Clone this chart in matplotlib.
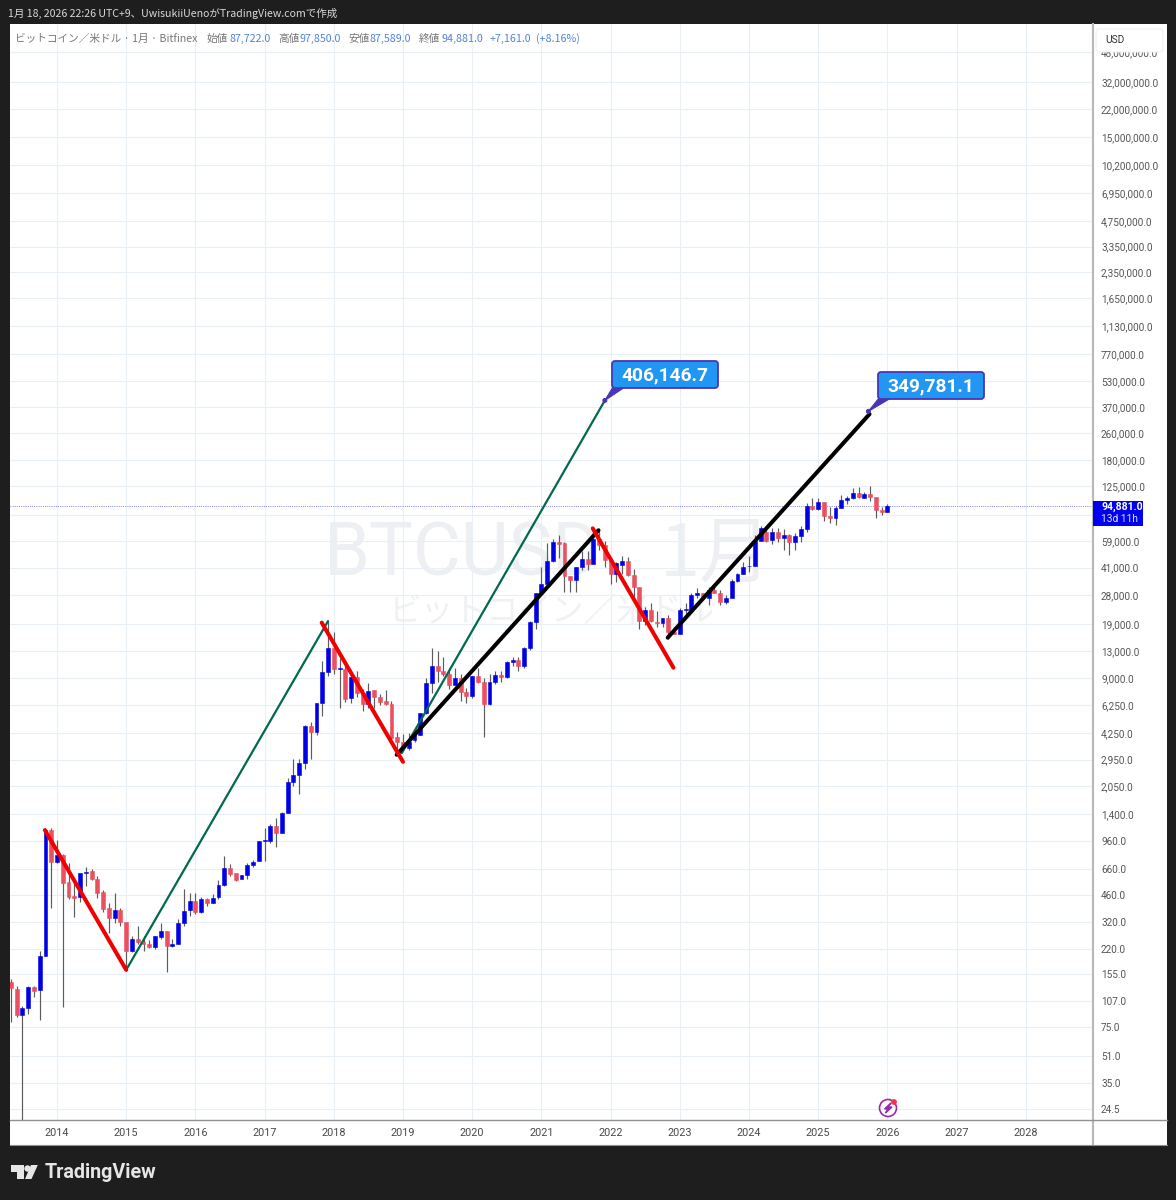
import matplotlib
matplotlib.use("Agg")
import numpy as np
import matplotlib.pyplot as plt
from matplotlib.patches import Rectangle, FancyBboxPatch, Polygon, Circle

# monthly candles, first bar is 2013-05, last bar 2026-01
opens = [140, 127, 89, 98, 131, 125, 200, 1122,
         724, 798, 551, 455, 449, 625, 641, 574, 481, 385, 336, 376,
         318, 214, 252, 242, 235, 226, 259, 282, 229, 235, 314, 376,
         425, 366, 437, 413, 449, 529, 668, 625, 574, 606, 695, 735,
         966, 966, 1188, 1079, 1418, 2168, 2390, 2817, 4677, 4305, 6412, 9795,
         13600, 10210, 10210, 6850, 9150, 7345, 6330, 7650, 6950, 6550, 6330, 4000,
         3760, 3470, 3855, 4130, 5580, 8430, 10650, 9930, 9600, 8200, 9040, 7500,
         7050, 9300, 8550, 6330, 8550, 9450, 9100, 11220, 11500, 10700, 13600, 19450,
         28900, 32700, 44900, 58200, 57500, 36600, 34600, 41300, 46100, 43000, 61000, 56000,
         45500, 37600, 42500, 44900, 37000, 31400, 19700, 22900, 19600, 19100, 20500, 16950,
         16500, 23000, 22900, 28200, 28800, 27000, 30300, 28900, 25600, 27000, 34100, 37600,
         41800, 41800, 59000, 66700, 59800, 66700, 62000, 64500, 58200, 63400, 70000, 95300,
         91400, 100700, 83300, 81000, 92700, 103600, 107000, 114000, 107000, 113000, 108000, 91000,
         87722]
highs = [145, 132, 101, 133, 133, 214, 1156, 1156,
         979, 810, 714, 566, 624, 676, 655, 598, 496, 413, 474, 385,
         318, 263, 301, 263, 249, 263, 314, 282, 252, 332, 500, 474,
         474, 449, 440, 468, 566, 787, 705, 625, 606, 714, 745, 966,
         1156, 1223, 1324, 1440, 2280, 2971, 2971, 4750, 4943, 6412, 11400, 19700,
         16950, 11900, 10800, 9800, 9900, 7800, 8430, 7650, 7300, 7650, 6550, 4300,
         4200, 4250, 4300, 5600, 9040, 13600, 13000, 12000, 10300, 10400, 9500, 7900,
         9300, 10400, 9000, 9600, 9950, 9950, 11400, 12000, 12000, 13900, 19700, 28900,
         41300, 57800, 60700, 64100, 58500, 36600, 41300, 51400, 51400, 67700, 69000, 59000,
         45500, 44500, 48000, 47500, 40000, 31400, 24000, 25200, 22500, 20500, 21500, 18300,
         23500, 25200, 28800, 31000, 28800, 31300, 31500, 30000, 28000, 35000, 38000, 44400,
         48000, 64000, 72500, 70500, 70500, 70500, 69500, 65000, 66000, 73000, 99000, 106400,
         107000, 101500, 94500, 95000, 111000, 110000, 122500, 124000, 115000, 126000, 108500, 94000,
         97850]
lows = [81, 87, 15, 90, 114, 83, 200, 385,
        710, 99, 437, 341, 419, 521, 566, 443, 366, 274, 314, 301,
        165, 211, 235, 214, 223, 220, 252, 160, 227, 235, 301, 346,
        356, 360, 395, 413, 437, 521, 600, 560, 574, 574, 676, 735,
        735, 939, 892, 1079, 1418, 2056, 1841, 2594, 2971, 4130, 5370, 9270,
        9500, 5980, 6500, 6400, 6950, 5740, 6000, 5980, 6200, 6200, 3960, 3140,
        3430, 3370, 3760, 4130, 5500, 7345, 8550, 9270, 7770, 8200, 6550, 6400,
        6900, 8430, 4020, 6200, 8300, 8550, 9000, 10700, 9950, 10400, 13200, 17660,
        28900, 32700, 44500, 46800, 29300, 29300, 29300, 39900, 39700, 43000, 52000, 41300,
        32700, 33500, 37600, 36800, 27400, 17660, 18800, 19500, 18200, 18200, 15500, 16500,
        16500, 21000, 22300, 27000, 26500, 24500, 29000, 24500, 24800, 27000, 33900, 37400,
        38500, 41800, 58800, 58500, 56500, 58000, 52500, 48800, 52500, 58500, 66500, 90000,
        90000, 78000, 76000, 74000, 92700, 98400, 105500, 106500, 106500, 102000, 80500, 84000,
        87589]
closes = [129, 89, 98, 131, 124, 200, 1122, 724,
          798, 543, 449, 443, 624, 635, 574, 474, 380, 336, 376, 318,
          214, 252, 242, 235, 226, 263, 282, 229, 235, 314, 371, 425,
          366, 437, 413, 443, 529, 668, 615, 566, 606, 695, 724, 966,
          975, 1188, 1079, 1418, 2168, 2390, 2817, 4677, 4305, 6412, 9795, 13600,
          10210, 10300, 6760, 9150, 7345, 6330, 7550, 6950, 6500, 6350, 3960, 3760,
          3510, 3760, 4130, 5580, 8430, 10650, 9930, 9600, 8200, 9040, 7450, 7050,
          9300, 8550, 6330, 8550, 9400, 9100, 11220, 11500, 10700, 13600, 19450, 28900,
          32700, 44900, 58200, 56900, 36600, 34600, 41300, 46100, 43000, 60700, 55800, 45500,
          37600, 43700, 44900, 37000, 31400, 19700, 22900, 19700, 19100, 20500, 16950, 16500,
          22900, 23200, 28200, 28800, 27000, 30300, 29000, 25600, 27000, 34100, 37600, 41300,
          42200, 59000, 70500, 59000, 66700, 61500, 64500, 58500, 63400, 70000, 95300, 91400,
          100700, 83300, 81000, 92700, 103600, 107000, 114000, 107500, 113000, 108000, 91000, 87722,
          94881]
first_month = -8  # 2013-05, month 0 is 2014-01

# drawn trend lines: (months after 2014-01, price)
red_lines = [[(-2.1, 1122), (12, 165)],
             [(45.9, 19300), (60, 2860)],
             [(92.9, 70300), (106.9, 10400)]]
green_lines = [[(12, 165), (47, 19700)],
               [(59.8, 3230), (95, 406146.7)]]
black_lines = [[(58.9, 3150), (93.9, 68500)],
               [(105.9, 15700), (140.9, 337000)]]

year_labels = [str(y) for y in range(2014, 2029)]
year_months = [12 * i for i in range(len(year_labels))]

price_ticks = [24.5, 35, 51, 75, 107, 155, 220, 320, 460, 660, 960, 1400, 2050, 2950,
               4250, 6250, 9000, 13000, 19000, 28000, 41000, 59000, 85000, 125000, 180000,
               260000, 370000, 530000, 770000, 1130000, 1650000, 2350000, 3350000, 4750000,
               6950000, 10200000, 15000000, 22000000, 32000000, 48000000]
hidden_tick = 85000  # sits under the last price tag
last_price = 94881

DARK = "#1e1e1e"
BLUE = "#0000e6"
RED = "#ea5060"
GRID = "#e8f0f6"
CJK = ["Noto Sans CJK JP", "DejaVu Sans"]
plt.rcParams["font.family"] = ["Roboto", "Noto Sans CJK JP", "DejaVu Sans"]

fig = plt.figure(figsize=(11.76, 12), dpi=100, facecolor=DARK)

# white panel and watermark behind everything
bg = fig.add_axes([0, 0, 1, 1], zorder=0)
bg.set_xlim(0, 1176)
bg.set_ylim(1200, 0)
bg.axis("off")
bg.add_patch(Rectangle((10, 24), 1157, 1121, color="white", lw=0))
bg.text(463, 555, "BTCUSD", fontsize=53, color="#edeff2", family=["Roboto"], ha="center", va="center")
bg.text(716, 555, "1月", fontsize=52, color="#edeff2", family=CJK, ha="center", va="center")
bg.text(552, 612, "ビットコイン／米ドル", fontsize=23.5, color="#eff1f4", family=CJK, ha="center", va="center")

ax = fig.add_axes([10 / 1176, 1 - 1120 / 1200, 1083 / 1176, 1096 / 1200], zorder=1)
ax.patch.set_alpha(0)
ax.set_yscale("log")
ax.set_xlim(-8.15, 179.65)
ax.set_ylim(21.06, 70900000)
for s in ax.spines.values():
    s.set_visible(False)

ax.set_xticks(year_months)
ax.set_xticklabels(year_labels, fontsize=7.8, color="#4a4a4a")
ax.yaxis.tick_right()
ax.set_yticks(price_ticks)
ax.set_yticklabels(["" if p == hidden_tick else f"{p:,.1f}" for p in price_ticks],
                   fontsize=7.2, color="#555555")
ax.minorticks_off()
ax.tick_params(axis="both", length=0)
ax.tick_params(axis="x", pad=6)
ax.tick_params(axis="y", pad=5.8)
ax.grid(True, color=GRID, lw=0.8)
ax.set_axisbelow(True)

# candles
x = first_month + np.arange(len(opens))
o = np.array(opens, float)
h = np.array(highs, float)
l = np.array(lows, float)
c = np.array(closes, float)
colors = [BLUE if cc >= oo else RED for oo, cc in zip(o, c)]
ax.vlines(x, l, h, color="#5c5c5c", lw=0.85, zorder=3)
ax.bar(x, np.abs(c - o), bottom=np.minimum(o, c), width=0.68, color=colors,
       edgecolor=colors, lw=0.4, zorder=4)

ax.axhline(last_price, color="#5a5ae0", lw=0.6, ls=(0, (1, 1.6)), zorder=2)

for line in green_lines:
    xs, ys = zip(*line)
    ax.plot(xs, ys, color="#00694f", lw=1.6, zorder=5, solid_capstyle="round")
for line in black_lines:
    xs, ys = zip(*line)
    ax.plot(xs, ys, color="black", lw=2.9, zorder=6, solid_capstyle="round")
for line in red_lines:
    xs, ys = zip(*line)
    ax.plot(xs, ys, color="#f00000", lw=2.9, zorder=7, solid_capstyle="round")

# everything in screen pixels from here
ov = fig.add_axes([0, 0, 1, 1], zorder=2)
ov.set_xlim(0, 1176)
ov.set_ylim(1200, 0)
ov.axis("off")
ov.patch.set_alpha(0)

ov.plot([1093, 1093], [24, 1145], color="#b8b8b8", lw=1.5)
ov.plot([10, 1167], [1120, 1120], color="#8f8f8f", lw=1)
ov.plot([10, 1167], [1145, 1145], color="#8f8f8f", lw=0.8)


def callout(month, price, text, left, top):
    fx, fy = ax.transData.transform((month, price))
    px, py = ov.transData.inverted().transform((fx, fy))
    ov.add_patch(Polygon([(px, py), (left + 1, top + 26), (left + 13, top + 26)],
                         facecolor="#4a35b5", edgecolor="#4a35b5", lw=0.8, zorder=6))
    ov.add_patch(FancyBboxPatch((left + 2, top + 2), 102, 23, boxstyle="round,pad=2,rounding_size=3",
                                facecolor="#2196f3", edgecolor="#4a35b5", lw=1.3, zorder=7))
    ov.add_patch(Circle((px, py), 1.8, color="#4a35b5", zorder=8))
    ov.text(left + 53, top + 14, text, color="white", fontsize=13.8, fontweight="bold",
            ha="center", va="center", zorder=9)


callout(95, 406146.7, "406,146.7", 612, 361)
callout(140.7, 349781.1, "349,781.1", 878, 372)

# price axis extras
ov.add_patch(FancyBboxPatch((1098, 31), 63, 19, boxstyle="round,pad=2,rounding_size=3",
                            facecolor="white", edgecolor="#f0f0f0", lw=0.8, zorder=6))
ov.text(1105, 40, "USD", fontsize=7.3, color="#333333", va="center", zorder=7)
ov.add_patch(Rectangle((1093, 501), 50, 25, color="#0000f0", lw=0, zorder=6))
ov.text(1101, 507, "94,881.0", fontsize=7.6, color="white", fontweight="bold", va="center", zorder=7)
ov.text(1101, 519.5, "13d 11h", fontsize=7.4, color="#dfe6ff", va="center", zorder=7)

# header and legend line
ov.text(8, 13.5, "1月 18, 2026 22:26 UTC+9、UwisukiiUenoがTradingView.comで作成", fontsize=7.6,
        color="#d8d8d8", family=CJK, va="center")
GRAY = "#777777"
VAL = "#4f83d6"
legend = [(15, "ビットコイン／米ドル · 1月 · Bitfinex", GRAY),
          (207, "始値", GRAY), (229, "87,722.0", VAL),
          (278, "高値", GRAY), (300, "97,850.0", VAL),
          (348, "安値", GRAY), (370, "87,589.0", VAL),
          (419, "終値", GRAY), (441, "94,881.0", VAL),
          (490, "+7,161.0", VAL), (536, "(+8.16%)", VAL)]
for lx, txt, col in legend:
    ov.text(lx, 38.5, txt, fontsize=7.7, color=col, family=CJK, va="center")

# lightning badge
ov.add_patch(Circle((888, 1108), 8.5, facecolor="white", edgecolor="#9c27b0", lw=1.2, zorder=5))
ov.add_patch(Polygon([(891, 1103), (884.5, 1109), (888, 1109), (885.5, 1113), (892, 1107), (888, 1107)],
                     color="#9c27b0", zorder=6))
ov.add_patch(Circle((894, 1102), 2.2, color="#f23645", zorder=7))

# logo
LOGO = "#e6e6e6"
ov.add_patch(Polygon([(11, 1165), (24, 1165), (24, 1179), (17, 1179), (17, 1172), (11, 1172)], color=LOGO, lw=0))
ov.add_patch(Circle((27.5, 1168.5), 3.2, color=LOGO, lw=0))
ov.add_patch(Polygon([(31, 1165), (37.8, 1165), (31.5, 1179), (25, 1179)], color=LOGO, lw=0))
ov.text(45, 1172.5, "TradingView", fontsize=14.2, color=LOGO, fontweight="bold", va="center")

fig.savefig("out.png", dpi=100, facecolor=DARK)
